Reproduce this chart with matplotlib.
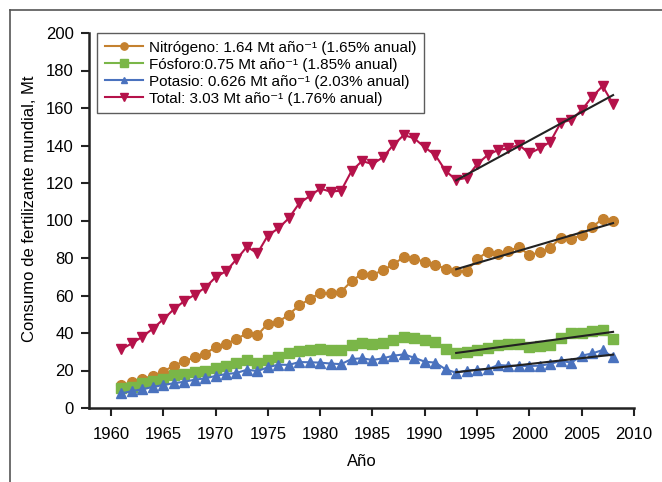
import matplotlib
matplotlib.use('Agg')
import matplotlib.pyplot as plt
from matplotlib.lines import Line2D
import numpy as np

plt.rcParams['font.family'] = ['Liberation Sans', 'DejaVu Sans']

years = np.arange(1961, 2009)

nitrogen = [12.3, 13.7, 15.5, 17.2, 19.4, 22.6, 24.9, 27.0, 29.0, 32.4,
            34.1, 36.8, 39.8, 38.9, 45.0, 45.9, 49.8, 54.8, 58.0, 61.5,
            61.1, 62.0, 67.7, 71.6, 71.1, 73.4, 76.8, 80.4, 79.6, 77.9,
            76.2, 74.4, 72.9, 73.1, 79.3, 83.4, 82.1, 83.9, 85.7, 81.6,
            83.0, 85.5, 90.8, 90.3, 92.1, 96.4, 101.0, 99.9]
phosphorus = [10.5, 11.4, 13.2, 14.4, 15.5, 17.6, 18.3, 19.4, 19.7, 21.5,
              22.6, 24.0, 25.8, 24.2, 25.8, 27.4, 29.1, 30.2, 31.1, 31.6,
              31.1, 31.1, 33.4, 34.9, 34.0, 34.8, 36.4, 38.0, 37.5, 36.4,
              35.3, 31.5, 29.1, 30.0, 31.1, 31.8, 33.6, 34.1, 34.0, 32.4,
              33.2, 33.6, 37.2, 40.2, 40.2, 40.9, 41.4, 36.8]
potassium = [7.8, 9.0, 10.0, 11.2, 12.3, 13.2, 14.0, 15.1, 15.8, 17.1,
             18.1, 18.7, 20.4, 19.7, 21.7, 23.1, 23.0, 24.5, 24.4, 24.2,
             23.7, 23.4, 26.1, 26.5, 25.6, 26.5, 27.9, 28.6, 26.8, 24.7,
             24.2, 20.6, 18.8, 20.0, 20.4, 20.6, 22.9, 22.6, 22.4, 22.4,
             22.6, 23.5, 25.2, 24.2, 27.9, 29.1, 30.9, 27.0]
total = [31.3, 34.5, 38.0, 42.3, 47.3, 52.6, 57.0, 60.4, 64.2, 69.7,
         73.0, 79.3, 86.0, 82.5, 92.0, 95.8, 101.2, 109.2, 113.0, 117.0,
         115.4, 115.9, 126.4, 131.7, 130.1, 133.7, 140.3, 145.6, 143.8, 139.0,
         134.9, 126.4, 121.6, 122.8, 130.0, 134.9, 137.6, 138.5, 140.3, 135.8,
         138.5, 142.0, 152.2, 153.6, 158.9, 166.0, 171.7, 162.1]

# slopes printed in the legend (Mt per year), fitted from 1993 on
slopes = [1.64, 0.75, 0.626, 3.03]
trend_from = 1993

labels = ['Nitrógeno: 1.64 Mt año\u207b\u00b9 (1.65% anual)',
          'Fósforo:0.75 Mt año\u207b\u00b9 (1.85% anual)',
          'Potasio: 0.626 Mt año\u207b\u00b9 (2.03% anual)',
          'Total: 3.03 Mt año\u207b\u00b9 (1.76% anual)']
colors = ['#C4812F', '#7AB648', '#4A72BE', '#B5124A']
markers = ['o', 's', '^', 'v']
msizes = [7.0, 7.0, 6.5, 7.0]

fig = plt.figure(figsize=(6.62, 4.82), dpi=100)
ax = fig.add_axes([89 / 662, 1 - 408 / 482, (634 - 89) / 662, (408 - 33) / 482])

series = [nitrogen, phosphorus, potassium, total]
for vals, lab, c, m, ms in zip(series, labels, colors, markers, msizes):
    ax.plot(years, vals, color=c, marker=m, markersize=ms, linewidth=1.5,
            markeredgecolor=c, label=lab)

# trend lines: given slope, through the mean of the later period
sel = years >= trend_from
for vals, s in zip(series, slopes):
    v = np.array(vals)[sel]
    yr = years[sel]
    b = v.mean() - s * yr.mean()
    ax.plot([yr[0], yr[-1]], [b + s * yr[0], b + s * yr[-1]],
            color='#222222', linewidth=1.5, zorder=5)

ax.set_xlim(1957.9, 2010)
ax.set_ylim(0, 200)
ax.set_xticks(range(1960, 2011, 5))
ax.set_yticks(range(0, 201, 20))
ax.tick_params(labelsize=12, length=6, width=1.5, color='#222222', direction='out')
ax.tick_params(axis='x', pad=8)
ax.tick_params(axis='y', pad=5)
for side in ['top', 'right']:
    ax.spines[side].set_visible(False)
for side in ['left', 'bottom']:
    ax.spines[side].set_linewidth(1.8)
    ax.spines[side].set_color('#222222')

ax.set_xlabel('Año', fontsize=12, labelpad=8)
ax.set_ylabel('Consumo de fertilizante mundial, Mt', fontsize=12)
ax.yaxis.set_label_coords(-0.095, 0.53)

leg = ax.legend(loc='upper left', bbox_to_anchor=(8 / 545, 1.0), borderaxespad=0,
                fontsize=11, frameon=True, fancybox=False, edgecolor='#333333',
                handlelength=2.5, handletextpad=0.4, borderpad=0.5,
                labelspacing=0.2, markerscale=0.75)
leg.get_frame().set_linewidth(1.0)

# outer frame of the figure
fig.add_artist(Line2D([10 / 662, 10 / 662], [0, 1 - 10 / 482], color='#555555', lw=1.2))
fig.add_artist(Line2D([10 / 662, 1], [1 - 10 / 482, 1 - 10 / 482], color='#555555', lw=1.2))

fig.savefig('out.png', dpi=100)
